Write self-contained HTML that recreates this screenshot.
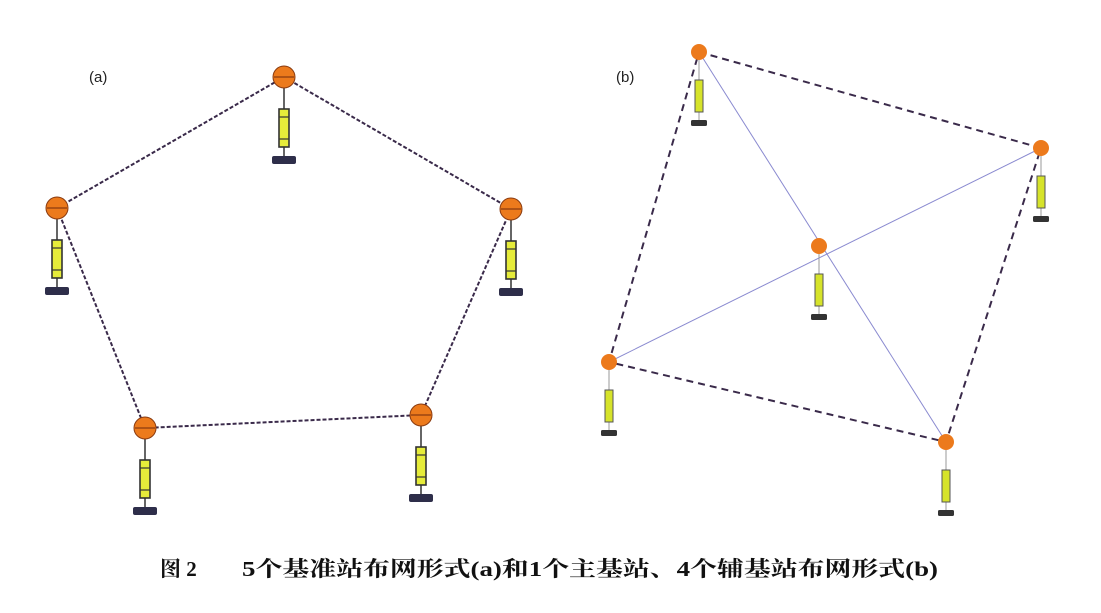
<!DOCTYPE html>
<html><head><meta charset="utf-8"><style>
body{margin:0;background:#fff;}
</style></head><body>
<svg width="1101" height="608" xmlns="http://www.w3.org/2000/svg">
<defs>
<g id="na">
<line x1="0" y1="0" x2="0" y2="82" stroke="#333" stroke-width="1.5"/>
<rect x="-5" y="32" width="10" height="38" fill="#e6ec3a" stroke="#333" stroke-width="1.6"/>
<line x1="-5" y1="40" x2="5" y2="40" stroke="#333" stroke-width="1.2"/>
<line x1="-5" y1="62" x2="5" y2="62" stroke="#333" stroke-width="1.2"/>
<rect x="-12" y="79" width="24" height="8" rx="2" fill="#2e2e4a"/>
<circle cx="0" cy="0" r="11" fill="#ec7a1c" stroke="#8a3b10" stroke-width="1"/>
<line x1="-10" y1="0" x2="10" y2="0" stroke="#8a3b10" stroke-width="1.2"/>
</g>
<g id="nb">
<line x1="0" y1="0" x2="0" y2="70" stroke="#999" stroke-width="1"/>
<rect x="-4" y="28" width="8" height="32" fill="#d6e32a" stroke="#555" stroke-width="1"/>
<rect x="-8" y="68" width="16" height="6" rx="1.5" fill="#333"/>
<circle cx="0" cy="0" r="8" fill="#ec7a1c"/>
</g>
</defs>
<g stroke="#3a2a4a" stroke-width="2" stroke-dasharray="4,2" fill="none">
<polygon points="284,77 511,209 421,415 145,428 57,208"/>
</g>
<use href="#na" x="284" y="77"/>
<use href="#na" x="57" y="208"/>
<use href="#na" x="511" y="209"/>
<use href="#na" x="145" y="428"/>
<use href="#na" x="421" y="415"/>
<g stroke="#3a2a4a" stroke-width="2" stroke-dasharray="7,5" fill="none">
<polygon points="699,52 1041,148 946,442 609,362"/>
</g>
<line x1="699" y1="52" x2="946" y2="442" stroke="#8a8ad0" stroke-width="1"/>
<line x1="1041" y1="148" x2="609" y2="362" stroke="#8a8ad0" stroke-width="1"/>
<use href="#nb" x="699" y="52"/>
<use href="#nb" x="1041" y="148"/>
<use href="#nb" x="819" y="246"/>
<use href="#nb" x="609" y="362"/>
<use href="#nb" x="946" y="442"/>
<text x="89" y="82" font-family="Liberation Sans, sans-serif" font-size="15" fill="#222">(a)</text>
<text x="616" y="82" font-family="Liberation Sans, sans-serif" font-size="15" fill="#222">(b)</text>
<text x="160" y="576" font-family="Liberation Serif, 'Noto Serif CJK SC', serif" font-size="21" font-weight="bold" fill="#111">图 2</text>
<text x="242" y="576" font-family="Liberation Serif, 'Noto Serif CJK SC', serif" font-size="21" font-weight="bold" fill="#111" textLength="696" lengthAdjust="spacingAndGlyphs">5个基准站布网形式(a)和1个主基站、4个辅基站布网形式(b)</text>
</svg>
</body></html>
